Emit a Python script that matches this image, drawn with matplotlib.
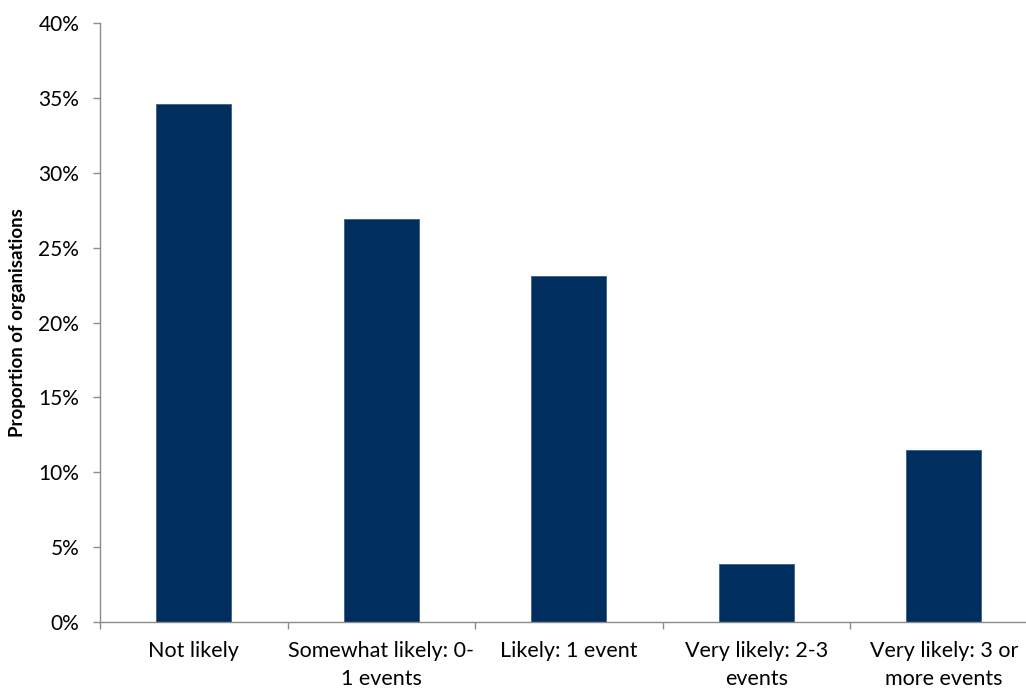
import matplotlib.pyplot as plt
import numpy as np

categories = ['Not likely', 'Somewhat likely: 0-\n1 events', 'Likely: 1 event',
              'Very likely: 2-3\nevents', 'Very likely: 3 or\nmore events']
proportions = [34.6, 26.9, 23.1, 3.85, 11.5]
y_ticks = [0, 5, 10, 15, 20, 25, 30, 35, 40]

plt.rcParams['font.family'] = ['Lato', 'DejaVu Sans']
axis_grey = '#8c8c8c'

fig = plt.figure(figsize=(10.26, 6.9), dpi=100)
ax = fig.add_axes([100 / 1026, 68 / 690, 937.5 / 1026, 599 / 690])

x = np.arange(len(categories))
ax.bar(x, proportions, width=0.4, color='#002e5f', edgecolor='#3d5f86', linewidth=0.6)

ax.set_xlim(-0.5, len(categories) - 0.5)
ax.set_ylim(0, 40)
ax.set_yticks(y_ticks)
ax.set_yticklabels([f'{t}%' for t in y_ticks])
ax.set_xticks(x)
ax.set_xticklabels(categories, linespacing=1.45)
ax.set_xticks(np.arange(len(categories) + 1) - 0.5, minor=True)

ax.tick_params(axis='y', direction='out', length=5, width=1, color=axis_grey,
               labelsize=15, pad=10, labelcolor='black')
ax.tick_params(axis='x', which='major', length=0, labelsize=15.5, pad=14, labelcolor='black')
ax.tick_params(axis='x', which='minor', direction='out', length=5, width=1, color=axis_grey)

for side in ['top', 'right']:
    ax.spines[side].set_visible(False)
for side in ['left', 'bottom']:
    ax.spines[side].set_color(axis_grey)
    ax.spines[side].set_linewidth(1)

ax.set_ylabel('Proportion of organisations', fontsize=13.5, fontweight='bold', labelpad=9)

fig.savefig('out.png', dpi=100)
